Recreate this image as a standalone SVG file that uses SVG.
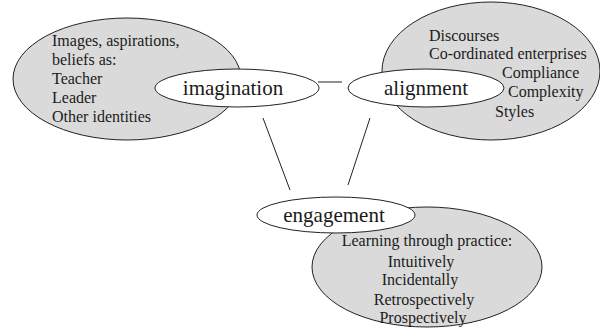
<svg xmlns="http://www.w3.org/2000/svg" width="600" height="333" viewBox="0 0 600 333">
<style>
.bg{fill:#dadada;stroke:#222;stroke-width:1}
.lbl{fill:#fff;stroke:#222;stroke-width:1}
text{font-family:"Liberation Serif","Times New Roman",serif;fill:#1a1a1a}
.t{font-size:16px}
.h{font-size:21px}
.c{stroke:#222;stroke-width:1;fill:none}
</style>
<rect width="600" height="333" fill="#fff"/>
<g id="imagination-detail">
<ellipse class="bg" cx="127" cy="79" rx="114" ry="61"/>
<text class="t" x="52" y="46">Images, aspirations,</text>
<text class="t" x="52" y="65">beliefs as:</text>
<text class="t" x="52" y="84">Teacher</text>
<text class="t" x="52" y="103">Leader</text>
<text class="t" x="52" y="122">Other identities</text>
</g>
<g id="alignment-detail">
<ellipse class="bg" cx="491" cy="71" rx="109" ry="69"/>
</g>
<g id="engagement-detail">
<ellipse class="bg" cx="427" cy="267" rx="115" ry="60"/>
<text class="t" x="427" y="246" text-anchor="middle">Learning through practice:</text>
<text class="t" x="421" y="267" text-anchor="middle">Intuitively</text>
<text class="t" x="420" y="285" text-anchor="middle">Incidentally</text>
<text class="t" x="424" y="305" text-anchor="middle">Retrospectively</text>
<text class="t" x="423" y="323" text-anchor="middle">Prospectively</text>
</g>
<g id="connectors">
<line class="c" x1="318" y1="82" x2="342" y2="82"/>
<line class="c" x1="263" y1="118" x2="290" y2="190"/>
<line class="c" x1="370" y1="118" x2="348" y2="185"/>
</g>
<g id="imagination">
<ellipse class="lbl" cx="237" cy="88" rx="82" ry="19"/>
<text class="h" x="233" y="95" text-anchor="middle">imagination</text>
</g>
<g id="alignment">
<ellipse class="lbl" cx="426" cy="88" rx="78" ry="19"/>
<text class="h" x="426" y="95" text-anchor="middle">alignment</text>
</g>
<g id="alignment-text">
<text class="t" x="429" y="41">Discourses</text>
<text class="t" x="429" y="59">Co-ordinated enterprises</text>
<text class="t" x="502" y="78">Compliance</text>
<text class="t" x="508" y="97">Complexity</text>
<text class="t" x="495" y="117">Styles</text>
</g>
<g id="engagement">
<ellipse class="lbl" cx="336" cy="215" rx="79" ry="18"/>
<text class="h" x="334" y="222" text-anchor="middle">engagement</text>
</g>
</svg>
